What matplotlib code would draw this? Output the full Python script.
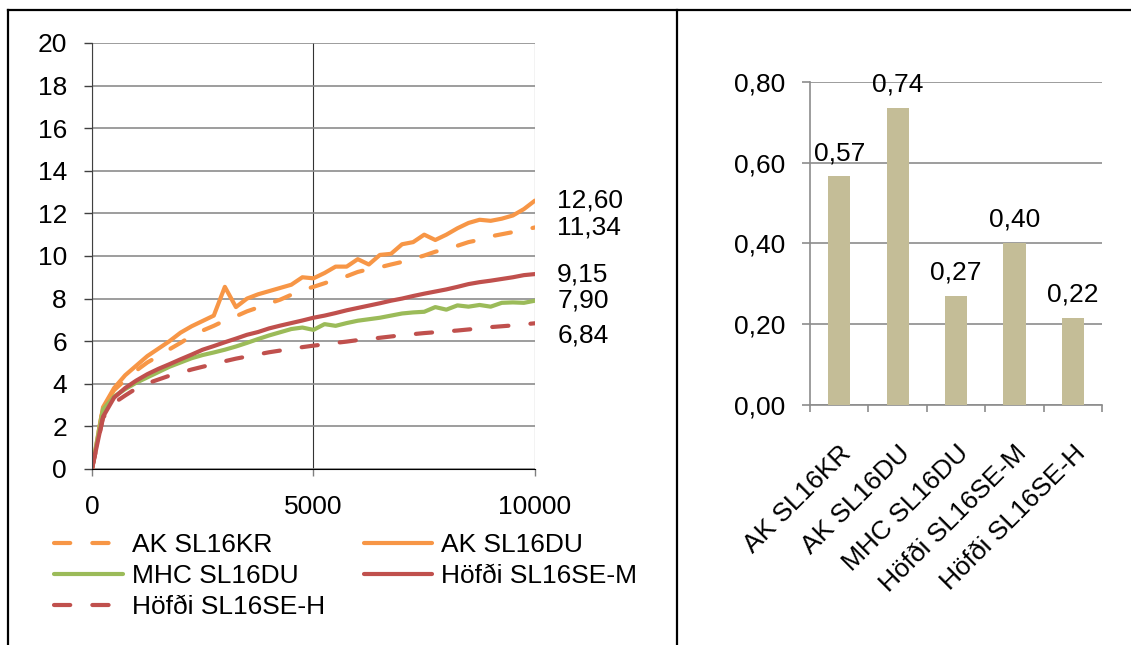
import numpy as np
import matplotlib
matplotlib.use("Agg")
import matplotlib.pyplot as plt
import matplotlib.transforms as mtransforms
from matplotlib.lines import Line2D

plt.rcParams['font.family'] = ['Liberation Sans', 'DejaVu Sans']
plt.rcParams['font.size'] = 19

# data
x_vals = np.arange(0, 10001, 250)
ak_kr = [0, 2.9, 3.7, 4.18, 4.62, 5.0, 5.3, 5.62, 5.92, 6.25, 6.5, 6.72, 6.97, 7.17, 7.4, 7.58, 7.77,
         7.95, 8.18, 8.4, 8.55, 8.72, 8.9, 9.05, 9.25, 9.38, 9.47, 9.6, 9.72, 9.87, 10.02, 10.2, 10.33,
         10.48, 10.65, 10.76, 10.92, 11.02, 11.12, 11.22, 11.34]
ak_du = [0, 2.9, 3.8, 4.4, 4.85, 5.3, 5.65, 6.0, 6.4, 6.7, 6.95, 7.2, 8.55, 7.6, 8.0, 8.2, 8.35,
         8.5, 8.65, 9.0, 8.95, 9.2, 9.5, 9.5, 9.85, 9.6, 10.05, 10.1, 10.55, 10.65, 11.0, 10.75, 11.0,
         11.3, 11.55, 11.7, 11.65, 11.75, 11.9, 12.2, 12.6]
mhc_du = [0, 2.8, 3.4, 3.75, 4.05, 4.3, 4.55, 4.8, 5.0, 5.2, 5.35, 5.47, 5.6, 5.75, 5.92, 6.1, 6.27,
          6.42, 6.57, 6.64, 6.53, 6.8, 6.72, 6.85, 6.96, 7.03, 7.1, 7.2, 7.3, 7.35, 7.38, 7.6, 7.48,
          7.68, 7.62, 7.7, 7.62, 7.8, 7.82, 7.8, 7.9]
hofdi_m = [0, 2.45, 3.35, 3.8, 4.15, 4.45, 4.7, 4.92, 5.15, 5.37, 5.6, 5.77, 5.95, 6.12, 6.3, 6.43,
           6.6, 6.73, 6.85, 6.97, 7.1, 7.2, 7.32, 7.45, 7.56, 7.67, 7.78, 7.9, 8.0, 8.12, 8.23, 8.33,
           8.43, 8.55, 8.68, 8.77, 8.84, 8.92, 9.0, 9.1, 9.15]
hofdi_h = [0, 2.4, 3.1, 3.45, 3.78, 4.02, 4.2, 4.38, 4.52, 4.67, 4.8, 4.92, 5.06, 5.18, 5.28, 5.38,
           5.48, 5.56, 5.64, 5.72, 5.79, 5.85, 5.92, 5.98, 6.05, 6.1, 6.16, 6.22, 6.28, 6.33, 6.38,
           6.42, 6.46, 6.5, 6.55, 6.6, 6.66, 6.7, 6.74, 6.79, 6.84]

series_names = ['AK SL16KR', 'AK SL16DU', 'MHC SL16DU', 'Höfði SL16SE-M', 'Höfði SL16SE-H']
series_vals = [ak_kr, ak_du, mhc_du, hofdi_m, hofdi_h]

bar_names = ['AK SL16KR', 'AK SL16DU', 'MHC SL16DU', 'Höfði SL16SE-M', 'Höfði SL16SE-H']
bar_vals = [0.566, 0.736, 0.27, 0.402, 0.216]

orange = '#F79646'
green = '#9BBB59'
red = '#C0504D'
colors = [orange, orange, green, red, red]
dashed = [True, False, False, False, True]
label_dy = [0, 0, 0, 0, -9]   # points, to keep end labels apart

def komma(v):
    return f"{v:.2f}".replace('.', ',')

fig = plt.figure(figsize=(11.31, 6.45), dpi=100)

# --- left: line chart ---
ax1 = fig.add_axes([0.0813, 0.2729, 0.3917, 0.6605])
lines = []
for name, vals, c, d in zip(series_names, series_vals, colors, dashed):
    if d:
        ln, = ax1.plot(x_vals, vals, color=c, lw=3, dashes=(3.9, 5.3), dash_capstyle='round', label=name)
    else:
        ln, = ax1.plot(x_vals, vals, color=c, lw=3, solid_capstyle='round', solid_joinstyle='round', label=name)
    lines.append(ln)

# value labels at line ends
for vals, dy in zip(series_vals, label_dy):
    ax1.annotate(komma(vals[-1]), xy=(x_vals[-1], vals[-1]),
                 xytext=(16, dy), textcoords='offset points', va='center', ha='left',
                 annotation_clip=False)

ax1.set_xlim(0, 10000)
ax1.set_ylim(0, 20)
ax1.set_yticks(np.arange(0, 21, 2))
ax1.set_xticks([0, 5000, 10000])
ax1.yaxis.grid(True, color='#8c8c8c', lw=1.2)
ax1.xaxis.grid(True, color='#333333', lw=0.8)
ax1.set_axisbelow(True)
for s in ['top', 'right']:
    ax1.spines[s].set_visible(False)
ax1.spines['left'].set_color('#404040')
ax1.spines['bottom'].set_color('#000000')
ax1.tick_params(axis='y', length=6, width=1, color='#404040', pad=12)
ax1.tick_params(axis='x', length=5, width=1, color='#808080', pad=14)

# legend filled row by row like the original
order = [0, 2, 4, 1, 3]
ax1.legend([lines[i] for i in order], [series_names[i] for i in order],
           loc='upper left', bbox_to_anchor=(0.048, 0.174), bbox_transform=fig.transFigure,
           ncol=2, frameon=False, fontsize=19, handlelength=2.6, handletextpad=0.35,
           columnspacing=1.45, labelspacing=0.27, borderpad=0, borderaxespad=0)

# --- right: bar chart ---
ax2 = fig.add_axes([0.7162, 0.3721, 0.2582, 0.5012])
pos = np.arange(len(bar_names))
bars = ax2.bar(pos, bar_vals, width=0.38, color='#C4BD97', zorder=3)
ax2.bar_label(bars, labels=[komma(v) for v in bar_vals], padding=8)
ax2.set_xlim(-0.5, len(bar_names) - 0.5)
ax2.set_ylim(0, 0.8)
ax2.set_yticks([0, 0.2, 0.4, 0.6, 0.8])
ax2.set_yticklabels([komma(v) for v in [0, 0.2, 0.4, 0.6, 0.8]])
ax2.yaxis.grid(True, color='#8c8c8c', lw=1.2)
ax2.set_axisbelow(True)
for s in ['top', 'right']:
    ax2.spines[s].set_visible(False)
ax2.spines['left'].set_color('#8c8c8c')
ax2.spines['bottom'].set_color('#8c8c8c')
ax2.spines['left'].set_linewidth(1.2)
ax2.spines['bottom'].set_linewidth(1.2)
ax2.set_xticks(pos)
ax2.set_xticklabels(bar_names, rotation=45, ha='right', rotation_mode='anchor')
shift = mtransforms.ScaledTranslation(-8 / 72, -1 / 72, fig.dpi_scale_trans)
for lab in ax2.get_xticklabels():
    lab.set_transform(lab.get_transform() + shift)
ax2.set_xticks(np.arange(-0.5, len(bar_names)), minor=True)
ax2.tick_params(axis='x', which='major', length=0, pad=26)
ax2.tick_params(axis='x', which='minor', length=5, width=1.2, color='#8c8c8c')
ax2.tick_params(axis='y', length=6, width=1.2, color='#8c8c8c', pad=12)

# frame lines around the two panels
fig.add_artist(Line2D([8 / 1131, 1], [1 - 10 / 645, 1 - 10 / 645], color='black', lw=1.6))
fig.add_artist(Line2D([8 / 1131, 8 / 1131], [0, 1 - 10 / 645], color='black', lw=1.6))
fig.add_artist(Line2D([677 / 1131, 677 / 1131], [0, 1 - 10 / 645], color='black', lw=1.6))

fig.savefig('out.png', dpi=100)
